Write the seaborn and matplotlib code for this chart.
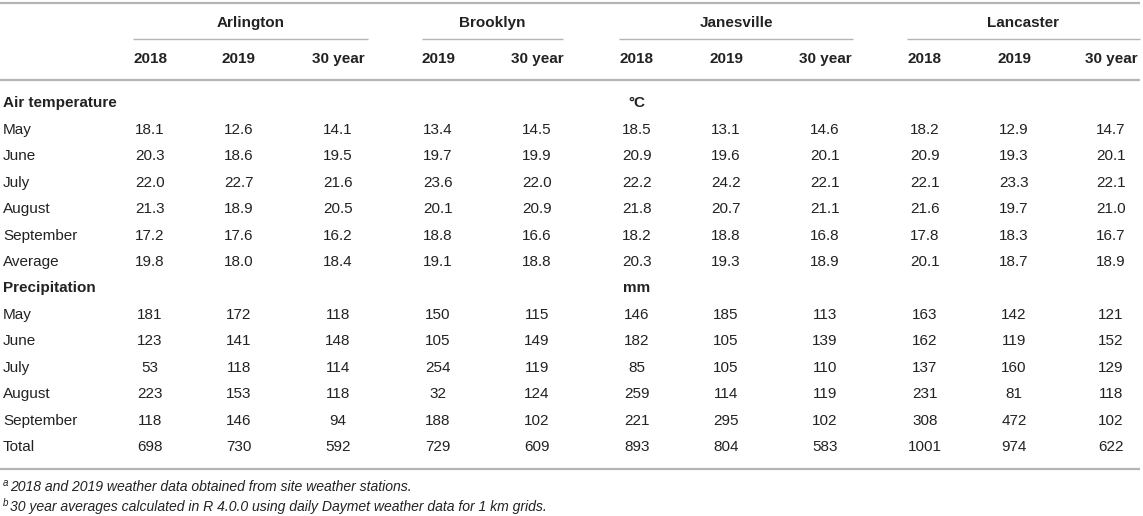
import numpy as np
import pandas as pd
import seaborn as sns
import matplotlib.pyplot as plt

# Data
sites = ['Arlington', 'Brooklyn', 'Janesville', 'Lancaster']
site_years = {
    'Arlington': ['2018', '2019', '30 year'],
    'Brooklyn': ['2019', '30 year'],
    'Janesville': ['2018', '2019', '30 year'],
    'Lancaster': ['2018', '2019', '30 year'],
}
months = ['May', 'June', 'July', 'August', 'September']

temp_rows = months + ['Average']
temp_values = [
    [18.1, 12.6, 14.1, 13.4, 14.5, 18.5, 13.1, 14.6, 18.2, 12.9, 14.7],
    [20.3, 18.6, 19.5, 19.7, 19.9, 20.9, 19.6, 20.1, 20.9, 19.3, 20.1],
    [22.0, 22.7, 21.6, 23.6, 22.0, 22.2, 24.2, 22.1, 22.1, 23.3, 22.1],
    [21.3, 18.9, 20.5, 20.1, 20.9, 21.8, 20.7, 21.1, 21.6, 19.7, 21.0],
    [17.2, 17.6, 16.2, 18.8, 16.6, 18.2, 18.8, 16.8, 17.8, 18.3, 16.7],
    [19.8, 18.0, 18.4, 19.1, 18.8, 20.3, 19.3, 18.9, 20.1, 18.7, 18.9],
]

precip_rows = months + ['Total']
precip_values = [
    [181, 172, 118, 150, 115, 146, 185, 113, 163, 142, 121],
    [123, 141, 148, 105, 149, 182, 105, 139, 162, 119, 152],
    [53, 118, 114, 254, 119, 85, 105, 110, 137, 160, 129],
    [223, 153, 118, 32, 124, 259, 114, 119, 231, 81, 118],
    [118, 146, 94, 188, 102, 221, 295, 102, 308, 472, 102],
    [698, 730, 592, 729, 609, 893, 804, 583, 1001, 974, 622],
]

footnotes = [
    ('a', '2018 and 2019 weather data obtained from site weather stations.'),
    ('b', '30 year averages calculated in R 4.0.0 using daily Daymet weather data for 1 km grids.'),
]

# Layout (pixels)
col_x = [150, 239, 338, 438, 537, 637, 726, 825, 925, 1014, 1111]
group_span = {'Arlington': (133, 368), 'Brooklyn': (422, 563),
              'Janesville': (619, 853), 'Lancaster': (907, 1140)}

sns.set_theme(style='white')
plt.rcParams['font.family'] = ['Liberation Sans', 'DejaVu Sans']

fig = plt.figure(figsize=(11.43, 5.16), dpi=100)
ax = fig.add_axes([0, 0, 1, 1])
ax.set_xlim(0, 1143)
ax.set_ylim(516, 0)
ax.axis('off')

txt = '#222222'
line_c = '#b5b5b5'
fs = 11

# rules
ax.hlines(3, 0, 1140, color=line_c, lw=1.6)
ax.hlines(80, 0, 1140, color=line_c, lw=1.6)
ax.hlines(469, 0, 1140, color=line_c, lw=1.6)

# group headers
for s in sites:
    x0, x1 = group_span[s]
    ax.text((x0 + x1) / 2, 23, s, ha='center', va='center', fontsize=fs,
            fontweight='bold', color=txt)
    ax.hlines(39, x0, x1, color=line_c, lw=1.0)

year_labels = [y for s in sites for y in site_years[s]]
for x, lab in zip(col_x, year_labels):
    ax.text(x, 59, lab, ha='center', va='center', fontsize=fs,
            fontweight='bold', color=txt)

def section(title, unit, rows, values, y0, fmt):
    ax.text(3, y0, title, ha='left', va='center', fontsize=fs,
            fontweight='bold', color=txt)
    ax.text(col_x[5], y0, unit, ha='center', va='center', fontsize=fs,
            fontweight='bold', color=txt)
    for i, (name, vals) in enumerate(zip(rows, values)):
        y = y0 + 27 + i * 26.4
        ax.text(3, y, name, ha='left', va='center', fontsize=fs, color=txt)
        for x, v in zip(col_x, vals):
            ax.text(x, y, fmt.format(v), ha='center', va='center',
                    fontsize=fs, color=txt)

section('Air temperature', '°C', temp_rows, temp_values, 103, '{:.1f}')
section('Precipitation', 'mm', precip_rows, precip_values, 288, '{:d}')

for (mark, note), y in zip(footnotes, [487, 507]):
    ax.text(3, y - 4, mark, ha='left', va='center', fontsize=7,
            fontstyle='italic', color=txt)
    ax.text(10, y, note, ha='left', va='center', fontsize=10.1,
            fontstyle='italic', color=txt)

fig.savefig('out.png', dpi=100)
